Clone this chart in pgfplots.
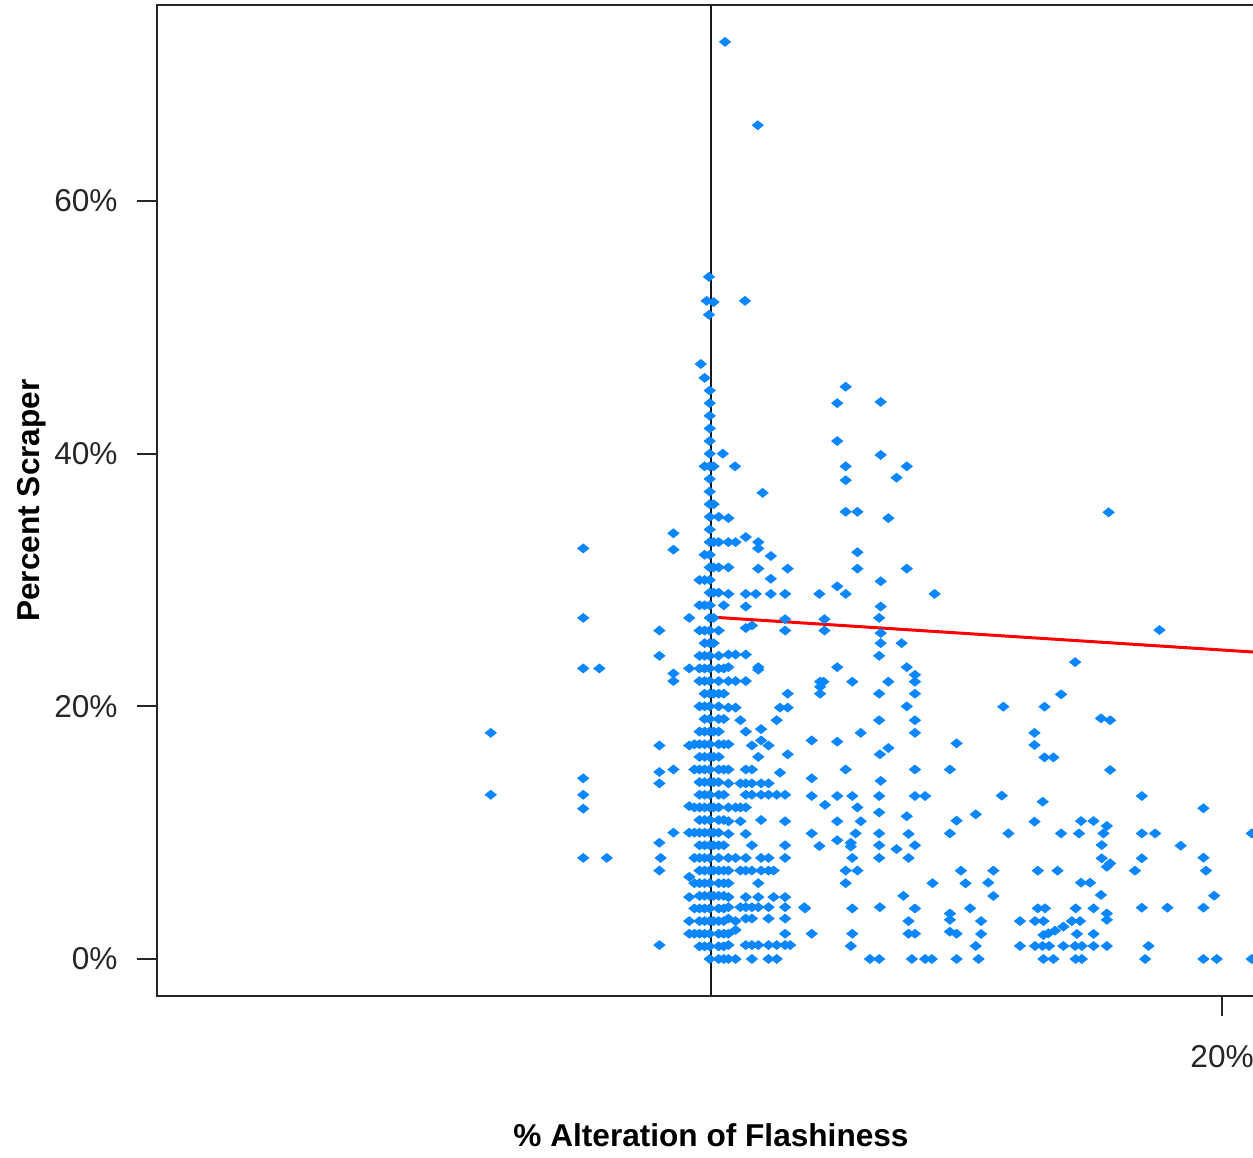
\documentclass[border=0pt]{standalone}
\usepackage{fontspec}
\setmainfont{Liberation Sans}
\usepackage{pgfplots}
\pgfplotsset{compat=1.18}
\definecolor{ptblue}{RGB}{10,134,255}
\begin{document}
\begin{tikzpicture}
\path[use as bounding box] (-78.5pt,-80.5pt) rectangle (548pt,498pt);
\clip (-78.5pt,-80.5pt) rectangle (548pt,498pt);
\begin{axis}[
  at={(0pt,0pt)}, anchor=south west,
  scale only axis, width=554pt, height=495.5pt,
  xmin=-21.68, xmax=21.68, ymin=-2.93, ymax=75.52,
  axis line style={line width=0.9pt, black!85},
  xtick={20}, xticklabels={20\%},
  ytick={0,20,40,60}, yticklabels={0\%,20\%,40\%,60\%},
  tick pos=left, tick align=outside, major tick length=10pt,
  tick style={line width=0.9pt, black!85},
  ticklabel style={font=\fontsize{15.8}{18}\selectfont, text=black!85},
  yticklabel style={anchor=east, inner sep=0pt, xshift=-9.5pt},
  xticklabel style={anchor=center, inner sep=0pt, yshift=-20.5pt},
  xlabel={\% Alteration of Flashiness},
  ylabel={Percent Scraper},
  xlabel style={at={(axis description cs:0.5,-0.14026)}, anchor=center, font=\fontsize{15.8}{18}\selectfont\bfseries},
  ylabel style={at={(axis description cs:-0.1128,0.5)}, anchor=center, font=\fontsize{15.8}{18}\selectfont\bfseries},
  clip=true,
]
\addplot[only marks, mark=diamond*, mark size=3.7pt, color=ptblue, mark options={yscale=0.6, line width=0.4pt}] coordinates {
(-8.62,17.9) (-8.62,13.0)
(-5.0,32.5) (-5.0,27.0) (-5.0,23.0) (-4.37,23.0) (-5.0,14.3) (-5.0,13.0) (-5.0,11.9) (-5.0,8.0) (-4.08,8.0)
(-2.02,26.0) (-2.02,24.0) (-2.02,16.9) (-2.02,14.8) (-2.02,13.9) (-2.02,9.2) (-1.97,8.0) (-2.02,7.0) (-2.02,1.1)
(-1.47,33.7) (-1.47,32.4) (-1.47,22.6) (-1.47,22.0) (-1.47,15.0) (-1.47,10.0)
(-0.85,27.0) (-0.85,23.0) (-0.85,16.9) (-0.85,12.1) (-0.85,10.0) (-0.85,6.5) (-0.85,4.9) (-0.85,3.0) (-0.85,2.0)
(-0.65,2) (-0.65,4) (-0.65,6) (-0.65,8) (-0.65,10) (-0.65,12) (-0.65,15) (-0.65,17)
(-0.45,1) (-0.45,2) (-0.45,3) (-0.45,4) (-0.45,5) (-0.45,6) (-0.45,7) (-0.45,8) (-0.45,9) (-0.45,10)
(-0.45,11) (-0.45,12) (-0.45,13) (-0.45,14) (-0.45,15) (-0.45,16) (-0.45,17) (-0.45,18) (-0.45,20) (-0.45,22)
(-0.45,23) (-0.45,24) (-0.45,26) (-0.45,28) (-0.45,30)
(-0.25,1) (-0.25,2) (-0.25,3) (-0.25,4) (-0.25,5) (-0.25,6) (-0.25,7) (-0.25,8) (-0.25,9) (-0.25,10)
(-0.25,11) (-0.25,12) (-0.25,13) (-0.25,14) (-0.25,15) (-0.25,16) (-0.25,17) (-0.25,18) (-0.25,19) (-0.25,20)
(-0.25,21) (-0.25,22) (-0.25,23) (-0.25,24) (-0.25,25) (-0.25,26) (-0.25,28) (-0.25,30) (-0.25,32) (-0.25,39) (-0.25,46)
(-0.05,0) (-0.05,1) (-0.05,2) (-0.05,3) (-0.05,4) (-0.05,5) (-0.05,6) (-0.05,7) (-0.05,8) (-0.05,9)
(-0.05,10) (-0.05,11) (-0.05,12) (-0.05,13) (-0.05,14) (-0.05,15) (-0.05,16) (-0.05,17) (-0.05,18) (-0.05,19)
(-0.05,20) (-0.05,21) (-0.05,22) (-0.05,23) (-0.05,24) (-0.05,25) (-0.05,26) (-0.05,27) (-0.05,28) (-0.05,29)
(-0.05,30) (-0.05,31) (-0.05,32) (-0.05,33) (-0.05,34) (-0.05,35) (-0.05,36) (-0.05,37) (-0.05,38) (-0.05,39)
(-0.05,40) (-0.05,41) (-0.05,42) (-0.05,43) (-0.05,44) (-0.05,45)
(0.1,3) (0.1,5) (0.1,7) (0.1,9) (0.1,10) (0.1,12) (0.1,14) (0.1,16) (0.1,18) (0.1,21) (0.1,25) (0.1,27)
(0.1,29) (0.1,31) (0.1,33) (0.1,36) (0.1,39) (0.1,52)
(-0.4,47.1) (-0.17,52.1) (-0.08,51.0) (-0.08,54.0) (0.55,72.6) (1.83,66.0) (1.33,52.1) (0.46,40.0) (0.94,39.0) (2.02,36.9)
(0.3,0) (0.3,1) (0.3,2) (0.3,3) (0.3,4) (0.3,5) (0.3,6) (0.3,7) (0.3,8) (0.3,9) (0.3,10) (0.3,11) (0.3,12)
(0.3,13) (0.3,14) (0.3,15) (0.3,16) (0.3,17) (0.3,18) (0.3,19) (0.3,20) (0.3,21) (0.3,22) (0.3,23) (0.3,24)
(0.3,26) (0.3,29) (0.3,31) (0.3,33) (0.3,35)
(0.5,0) (0.5,1) (0.5,2) (0.5,3) (0.5,4) (0.5,5) (0.5,6) (0.5,7) (0.5,9) (0.5,11) (0.5,13) (0.5,15) (0.5,17)
(0.5,19) (0.5,21) (0.5,23) (0.5,28)
(0.68,34.9) (0.68,33.0) (0.68,31.0) (0.68,28.9) (0.68,24.1) (0.68,23.1) (0.68,22.0) (0.68,19.9) (0.68,17.0)
(0.68,15.0) (0.68,13.9) (0.68,12.0) (0.68,10.9) (0.68,9.9) (0.68,8.0) (0.68,7.0) (0.68,6.0) (0.68,4.9)
(0.68,4.1) (0.68,3.2) (0.68,2.0) (0.68,1.1) (0.68,0)
(0.96,33.0) (0.96,24.1) (0.96,22.0) (0.96,19.9) (0.96,12.0) (0.96,8.0) (0.96,3.0) (0.96,2.3) (0.96,0)
(1.15,18.9) (1.15,13.9) (1.15,12.0) (1.15,10.9) (1.15,7.0) (1.15,4.1)
(1.36,33.4) (1.36,28.9) (1.36,27.9) (1.36,26.2) (1.36,24.1) (1.36,22.0) (1.36,18.0) (1.36,15.0) (1.36,13.9)
(1.36,13.0) (1.36,12.0) (1.36,9.9) (1.36,8.0) (1.36,7.0) (1.36,4.9) (1.36,4.1) (1.36,3.2) (1.36,1.1)
(1.6,26.4) (1.6,16.9) (1.6,15.0) (1.6,13.9) (1.6,13.0) (1.6,9.0) (1.6,7.0) (1.6,4.1) (1.6,3.2) (1.6,1.1) (1.6,0)
(1.75,28.9)
(1.85,33.0) (1.85,32.5) (1.85,30.9) (1.85,23.1) (1.85,22.9) (1.85,16.0) (1.85,6.0) (1.85,4.9) (1.85,4.1) (1.85,1.1)
(1.96,18.2) (1.96,17.3) (1.96,13.9) (1.96,13.0) (1.96,11.0) (1.96,8.0) (1.96,7.0)
(2.25,16.9) (2.25,13.9) (2.25,13.0) (2.25,8.0) (2.25,7.0) (2.25,4.1) (2.25,3.2) (2.25,1.1) (2.25,0)
(2.34,31.9) (2.34,30.1) (2.34,28.9)
(2.45,7.0) (2.45,4.9)
(2.57,18.9) (2.57,13.0) (2.57,1.1) (2.57,0)
(2.7,19.9) (2.7,14.75)
(2.9,28.9) (2.9,26.9) (2.9,26.0) (2.9,13.0) (2.9,10.9) (2.9,9.0) (2.9,8.0) (2.9,4.9) (2.9,4.1) (2.9,3.2) (2.9,2.0) (2.9,1.1)
(3.0,30.9) (3.0,21.0) (3.0,19.9) (3.0,16.2)
(3.1,1.1) (3.65,4.1)
(5.27,45.3) (4.94,44.0) (6.64,44.1) (4.94,41.0) (6.64,39.9) (5.27,39.0) (7.66,39.0) (5.27,37.9) (7.26,38.1)
(5.27,35.4) (5.73,35.4) (6.94,34.9) (5.73,32.2) (5.73,30.9) (7.66,30.9) (6.64,29.9) (4.24,28.9) (4.94,29.5)
(5.27,28.9) (8.75,28.9) (6.64,27.9) (4.44,26.9) (6.58,27.0) (4.44,26.0) (6.64,25.8) (6.64,25.0) (7.46,25.0)
(6.58,24.0) (4.94,23.1) (7.66,23.1)
(7.98,22.5) (7.98,21.95) (4.27,21.95) (4.4,21.95) (4.27,21.55) (4.27,21.0) (5.53,21.95) (6.94,21.95) (6.58,21.0)
(7.98,21.0) (7.66,20.0) (6.58,18.9) (7.98,18.9) (5.86,17.9) (7.98,17.9) (3.94,17.3) (4.94,17.2) (6.94,16.7)
(6.61,16.2) (9.61,17.07) (5.27,15.0) (7.98,15.0) (9.35,15.0) (3.94,14.3) (6.64,14.1) (3.94,12.9) (4.94,12.9)
(5.53,12.9) (6.58,12.9) (7.98,12.9) (8.38,12.9) (4.46,12.2) (5.73,12.0) (6.58,11.6) (7.66,11.3) (4.94,10.9)
(5.86,10.9) (9.61,10.95) (3.94,9.94) (5.66,9.94) (6.58,9.94) (7.73,9.9) (9.35,9.94) (4.24,8.94) (4.94,9.4)
(5.47,9.2) (5.47,8.9) (6.58,9.0) (7.26,8.7) (7.98,9.0) (5.53,8.0) (6.58,8.0) (7.73,8.0) (5.27,7.0) (5.73,7.0)
(5.27,6.0) (8.67,6.0) (7.53,5.0) (3.68,4.0) (5.53,4.0) (6.61,4.1) (7.98,4.0) (9.35,3.6) (9.35,3.1) (7.73,3.0)
(3.94,2.0) (5.53,2.0) (7.73,2.0) (7.98,2.0) (9.35,2.16) (9.61,2.0) (5.47,1.03) (6.22,0) (6.58,0) (7.86,0)
(8.38,0) (8.64,0) (9.61,0)
(15.56,35.36) (14.25,23.5) (13.70,20.95) (11.44,19.97) (13.05,19.97) (15.26,19.05) (15.62,18.9)
(12.66,17.9) (12.66,16.94) (13.05,15.96) (13.40,15.96) (15.62,14.96) (11.38,12.93) (12.98,12.45) (10.36,11.45)
(12.66,10.87) (14.48,10.92) (14.97,10.92) (15.49,10.53) (11.64,9.94) (13.70,9.94) (14.40,9.94) (15.36,9.94)
(15.29,9.02) (15.29,7.97) (15.49,7.3) (15.62,7.57) (9.78,6.99) (11.05,6.99) (12.79,6.99) (13.56,6.99)
(9.96,5.99) (10.85,6.04) (14.48,6.04) (14.83,6.04) (15.26,5.07) (11.05,4.99) (10.14,4.01) (12.79,4.01)
(13.07,4.01) (14.27,4.01) (14.97,4.01) (15.49,3.6) (15.49,3.1) (10.57,3.0) (12.09,3.0) (12.68,3.0) (13.01,3.0)
(14.12,3.0) (14.44,3.0) (13.79,2.56) (13.46,2.24) (13.20,2.03) (13.01,1.9) (10.57,1.98) (14.32,1.98) (14.97,1.98)
(10.36,1.03) (12.09,1.03) (12.68,1.03) (12.97,1.03) (13.23,1.03) (13.79,1.03) (14.25,1.03) (14.51,1.03)
(14.97,1.03) (15.49,1.03) (10.47,0) (13.01,0) (13.40,0) (14.27,0) (14.51,0)
(17.55,26.04) (16.86,12.9) (19.27,11.93) (16.86,9.94) (17.38,9.94) (21.16,9.94) (18.38,8.97) (16.86,7.97)
(19.27,8.02) (16.59,6.99) (19.37,6.99) (19.69,5.01) (16.86,4.06) (17.86,4.06) (19.27,4.06) (17.12,1.03)
(16.99,0) (19.27,0) (19.79,0) (21.16,0)
};
\addplot[black!90, line width=0.9pt, forget plot] coordinates {(0,-2.93) (0,75.52)};
\addplot[red, line width=1.5pt, forget plot] coordinates {(0,27.07) (21.68,24.24)};
\end{axis}
\end{tikzpicture}
\end{document}
